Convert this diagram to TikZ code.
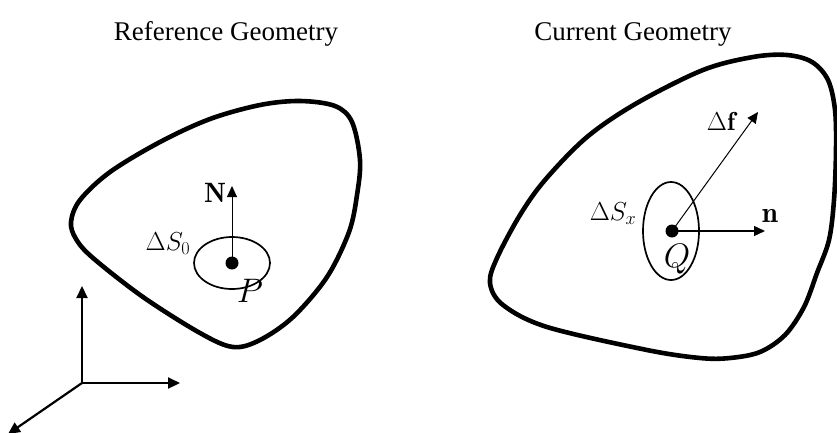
\RequirePackage{fix-cm}
\documentclass[tikz,border=0pt]{standalone}
\usepackage{fontspec}
\usetikzlibrary{arrows.meta}
\newfontfamily\titlefont{Liberation Serif}
\begin{document}
\begin{tikzpicture}[x=1pt,y=-1pt,
  blob/.style={line width=4.6pt, line join=round},
  patch/.style={line width=1.7pt},
  thinarrow/.style={line width=1pt, -{Triangle[length=11pt,width=10pt]}},
  axis/.style={line width=2.2pt, -{Triangle[length=12pt,width=11pt]}},
  lbl/.style={inner sep=0pt, font=\fontsize{26}{30}\selectfont},
  big/.style={inner sep=0pt, font=\fontsize{34}{38}\selectfont},
  title/.style={inner sep=0pt, font=\titlefont\fontsize{27}{30}\selectfont}]
\useasboundingbox (0,0) rectangle (837,432);

% titles
\node[title] (t1) at (226,34) {Reference Geometry};
\node[title] (t2) at (633,34) {Current Geometry};

% left blob
\draw[blob] plot[smooth cycle, tension=0.55] coordinates {
 (71,222) (80,200) (110,172) (160,142) (210,119) (260,105) (300,101)
 (335,106) (352,122) (360,160) (357,195) (349,232) (327,277) (293,317)
 (260,340) (233,347) (200,333) (143,297) (93,258) (76,239)};

% right blob
\draw[blob] plot[smooth cycle, tension=0.55] coordinates {
 (490,283) (497,258) (520,215) (545,180) (587,137) (637,103) (703,70)
 (753,57) (787,55) (812,62) (828,80) (835,110) (836,150) (834,200)
 (829,240) (817,273) (804,307) (785,335) (760,352) (730,358) (700,358)
 (647,350) (547,327) (503,305)};

% left patch
\coordinate (P0) at (232,263);
\draw[patch] (P0) ellipse [x radius=38pt, y radius=26pt];
\fill (P0) circle (6.5pt);
\coordinate (Ntip) at (232,186);
\draw[thinarrow] (P0) -- (Ntip);
\node[lbl, font=\fontsize{28}{32}\selectfont] (N) at (215,193) {$\mathbf{N}$};
\node[lbl] (S0) at (168,244) {$\Delta S_0$};
\node[big] (P) at (250,291) {$P$};

% right patch
\coordinate (Q0) at (672,231);
\draw[patch] (671,231) ellipse [x radius=28pt, y radius=49pt];
\fill (Q0) circle (6.5pt);
\coordinate (ntip) at (765,231);
\coordinate (ftip) at (758,112);
\draw[line width=1.3pt, -{Triangle[length=11pt,width=10pt]}] (Q0) -- (ntip);
\draw[thinarrow] (Q0) -- (ftip);
\node[lbl, font=\fontsize{29}{33}\selectfont] (n) at (770,216) {$\mathbf{n}$};
\node[lbl] (df) at (721,121) {$\Delta\mathbf{f}$};
\node[lbl] (Sx) at (613,214) {$\Delta S_x$};
\node[big] (Q) at (677,259) {$Q$};

% axes
\coordinate (O) at (82,383);
\coordinate (ay) at (82,286);
\coordinate (ax) at (180,383);
\coordinate (az) at (8,434);
\draw[axis] (O) -- (ay);
\draw[axis] (O) -- (ax);
\draw[axis] (O) -- (az);
\end{tikzpicture}
\end{document}
